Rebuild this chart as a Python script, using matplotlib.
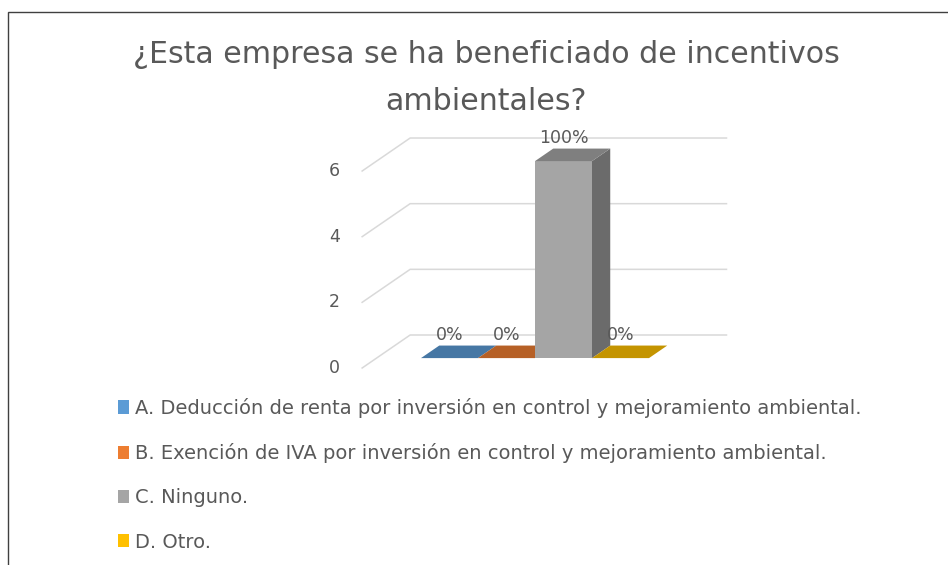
import matplotlib
matplotlib.use("Agg")
import matplotlib.pyplot as plt
from matplotlib.patches import Polygon, Rectangle, Patch
from matplotlib.lines import Line2D
import matplotlib.colors as mcolors

# ---------------- data ----------------
categories = ["A. Deducción de renta por inversión en control y mejoramiento ambiental.",
              "B. Exención de IVA por inversión en control y mejoramiento ambiental.",
              "C. Ninguno.",
              "D. Otro."]
values = [0, 0, 6, 0]
labels = ["0%", "0%", "100%", "0%"]
colors = ["#5B9BD5", "#ED7D31", "#A5A5A5", "#FFC000"]
yticks = [0, 2, 4, 6]
title_lines = ["¿Esta empresa se ha beneficiado de incentivos", "ambientales?"]

FONT = ["DejaVu Sans"]
TXT = "#595959"

W, H = 948, 565
fig = plt.figure(figsize=(W / 100, H / 100), dpi=100)

# axes placed by pixel anchors
ax_l, ax_r, ax_t, ax_b = 300, 760, 120, 380
ax = fig.add_axes([ax_l / W, 1 - ax_b / H, (ax_r - ax_l) / W, (ax_b - ax_t) / H])
px_per_x = 57.0
px_per_y = 32.83
x0_px = 406.6 + 0.5 * px_per_x      # px of x=0 (front plane)
y0_px = 368.0                         # px of value 0 (front plane)
ax.set_xlim((ax_l - x0_px) / px_per_x, (ax_r - x0_px) / px_per_x)
ax.set_ylim((y0_px - ax_b) / px_per_y, (y0_px - ax_t) / px_per_y)
ax.axis("off")

# depth projection
DX = 48.0 / px_per_x
DY = 33.0 / px_per_y
def P(x, y, d):
    return (x + d * DX, y + d * DY)

floor_l, floor_r = -1.28, 4.27
grid_c = "#D9D9D9"
for v in yticks:
    a, b = P(floor_l, v, 0), P(floor_l, v, 1)
    c = P(floor_r, v, 1)
    ax.add_line(Line2D([a[0], b[0], c[0]], [a[1], b[1], c[1]], color=grid_c, lw=1.1, zorder=1))
    ax.annotate(str(v), xy=a, xytext=(-22, 0), textcoords="offset pixels",
                ha="right", va="center", fontsize=12.5, color=TXT, family=FONT)

def shade(col, f):
    r, g, b = mcolors.to_rgb(col)
    return (r * f, g * f, b * f)

d0, d1 = 0.30, 0.68
for i, (v, col, lab) in enumerate(zip(values, colors, labels)):
    xl, xr = i - 0.5, i + 0.5
    if v > 0:
        front = [P(xl, 0, d0), P(xr, 0, d0), P(xr, v, d0), P(xl, v, d0)]
        ax.add_patch(Polygon(front, closed=True, fc=col, ec="none", zorder=3 + i))
        side = [P(xr, 0, d0), P(xr, v, d0), P(xr, v, d1), P(xr, 0, d1)]
        ax.add_patch(Polygon(side, closed=True, fc=shade(col, 0.65), ec="none", zorder=3 + i))
    top = [P(xl, v, d0), P(xr, v, d0), P(xr, v, d1), P(xl, v, d1)]
    ax.add_patch(Polygon(top, closed=True, fc=shade(col, 0.77), ec="none", zorder=3 + i))
    tx, ty = P(i, v + 1.0, d0)
    ax.text(tx, ty - d0 * DY, lab, ha="center", va="center", fontsize=12.5, color=TXT,
            family=FONT, zorder=10)

# title (two lines, baselines placed individually)
fig.text(486 / W, 1 - 63 / H, title_lines[0], ha="center", va="baseline", fontsize=21.6,
         color=TXT, family=FONT)
fig.text(486 / W, 1 - 110 / H, title_lines[1], ha="center", va="baseline", fontsize=21.6,
         color=TXT, family=FONT)

# legend
handles = [Patch(fc=c, ec="none") for c in colors]
leg = fig.legend(handles, categories, loc="upper left", bbox_to_anchor=(110 / W, 1 - 390 / H),
                 frameon=False, handlelength=0.58, handleheight=0.68,
                 handletextpad=0.32, labelspacing=1.3, borderaxespad=0,
                 prop={"family": FONT, "size": 14.0})
for t in leg.get_texts():
    t.set_color(TXT)

# outer border
fig.patches.append(Rectangle((8 / W, -0.1), 1.2, 1.1 - 12 / H, transform=fig.transFigure,
                             fill=False, ec="#404040", lw=1.0))

fig.savefig("out.png", dpi=100)
